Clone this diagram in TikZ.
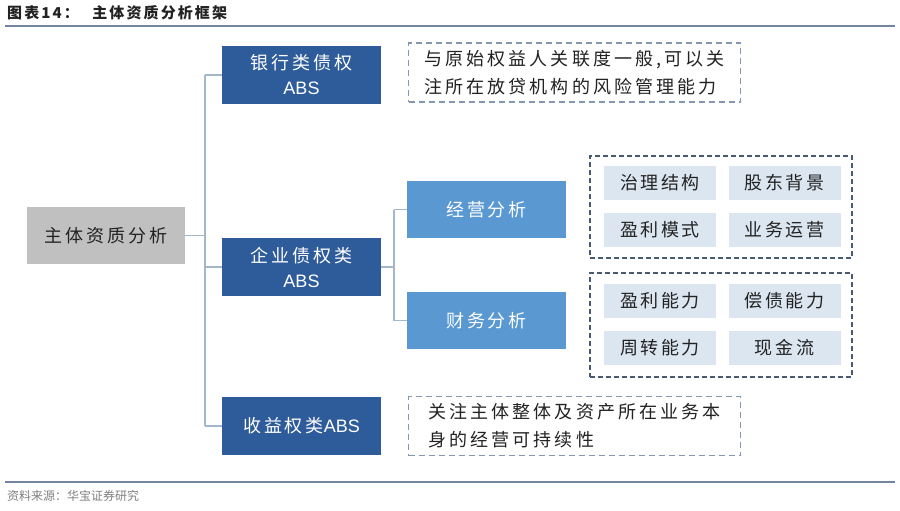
\documentclass[tikz,border=0pt]{standalone}
\usepackage{fontspec}
\setmainfont{Noto Sans CJK SC}
\newfontfamily\cjk[LetterSpace=16]{Noto Sans CJK SC}
\newfontfamily\cjkn[LetterSpace=17]{Noto Sans CJK SC}
\newfontfamily\cjks[LetterSpace=14]{Noto Sans CJK SC}
\newfontfamily\cjkt[LetterSpace=14]{Noto Sans CJK SC}
\newfontfamily\absf{Liberation Sans}
\newcommand{\ABSx}{{\absf ABS}}
\definecolor{darkblue}{HTML}{2E5C9A}
\definecolor{lightblue}{HTML}{5A98D2}
\definecolor{graybox}{HTML}{C0C0C0}
\definecolor{smallfill}{HTML}{DCE6F1}
\definecolor{notedash}{HTML}{8496B0}
\definecolor{groupdash}{HTML}{4A5A70}
\definecolor{conn}{HTML}{A3B6CA}
\definecolor{rule}{HTML}{7485A3}
\definecolor{txt}{HTML}{222222}
\tikzset{
  darkbox/.style={fill=darkblue, text=white, minimum width=159pt, minimum height=58pt, inner sep=0pt, align=center, font=\cjk\fontsize{18}{25}\selectfont},
  lightbox/.style={fill=lightblue, text=white, minimum width=159pt, minimum height=57pt, inner sep=0pt, align=center, font=\cjk\fontsize{18}{25}\selectfont},
  mainbox/.style={fill=graybox, text=txt, minimum width=158pt, minimum height=57pt, inner sep=0pt, align=center, font=\cjk\fontsize{18}{25}\selectfont},
  smallbox/.style={fill=smallfill, text=txt, minimum width=112pt, minimum height=34pt, inner sep=0pt, align=center, font=\cjks\fontsize{18}{22}\selectfont},
  notebox/.style={draw=notedash, line width=1.3pt, dash pattern=on 6pt off 4pt, text=txt, minimum width=332pt, minimum height=59pt, inner sep=0pt, align=left, font=\cjkn\fontsize{18}{28}\selectfont},
  groupbox/.style={draw=groupdash, line width=1.2pt, dash pattern=on 5pt off 3pt, minimum width=262pt, inner sep=0pt},
  connline/.style={draw=conn, line width=1.3pt},
}
\begin{document}
\begin{tikzpicture}[x=1pt,y=-1pt]
\useasboundingbox (0,0) rectangle (900,511);
\fill[white] (0,0) rectangle (900,511);
% title
\node[anchor=west, inner sep=0pt, text=txt, font=\cjkt\bfseries\fontsize{15}{18}\selectfont] (title) at (7,13) {图表14：\hspace{0.9em}主体资质分析框架};
\coordinate (r1a) at (5,26); \coordinate (r1b) at (895,26);
\draw[rule, line width=2.4pt] (r1a) -- (r1b);
\coordinate (r2a) at (5,482); \coordinate (r2b) at (895,482);
\draw[rule, line width=1.6pt] (r2a) -- (r2b);
\node[anchor=west, inner sep=0pt, text=gray, font=\fontsize{12}{14}\selectfont] (src) at (7,496) {资料来源：华宝证券研究};
% main nodes
\node[mainbox] (main) at (106,235.5) {主体资质分析};
\node[darkbox] (bank) at (301.5,75) {银行类债权\\\ABSx};
\node[darkbox] (ent) at (301.5,267) {企业债权类\\\ABSx};
\node[darkbox] (rev) at (301.5,426) {收益权类\ABSx};
\node[notebox] (n1) at (574.5,72.5) {与原始权益人关联度一般,\,可以关\\注所在放贷机构的风险管理能力};
\node[notebox] (n3) at (574.5,426) {关注主体整体及资产所在业务本\\身的经营可持续性};
\node[lightbox] (op) at (486.5,209.5) {经营分析};
\node[lightbox] (fin) at (486.5,320.5) {财务分析};
\node[groupbox, minimum height=102pt] (g1) at (721,207) {};
\node[groupbox, minimum height=104pt] (g2) at (721,325) {};
\node[smallbox] (s1) at (660,183) {治理结构};
\node[smallbox] (s2) at (784.5,183) {股东背景};
\node[smallbox] (s3) at (660,229.5) {盈利模式};
\node[smallbox] (s4) at (784.5,229.5) {业务运营};
\node[smallbox] (s5) at (660,301) {盈利能力};
\node[smallbox] (s6) at (784.5,301) {偿债能力};
\node[smallbox] (s7) at (660,347.5) {周转能力};
\node[smallbox] (s8) at (784.5,347.5) {现金流};
% connectors
\coordinate (tTop) at (205,75);
\coordinate (tBot) at (205,426);
\draw[connline] (tTop) -- (tBot);
\draw[connline] (main.east) -- (main.east -| tTop);
\draw[connline] (tTop) -- (bank.west);
\draw[connline] (ent.west -| tTop) -- (ent.west);
\draw[connline] (tBot) -- (rev.west);
\coordinate (uTop) at (394,209.5);
\coordinate (uBot) at (394,320.5);
\draw[connline] (uTop) -- (uBot);
\draw[connline] (ent.east) -- (ent.east -| uTop);
\draw[connline] (uTop) -- (op.west);
\draw[connline] (uBot) -- (fin.west);
\end{tikzpicture}
\end{document}
